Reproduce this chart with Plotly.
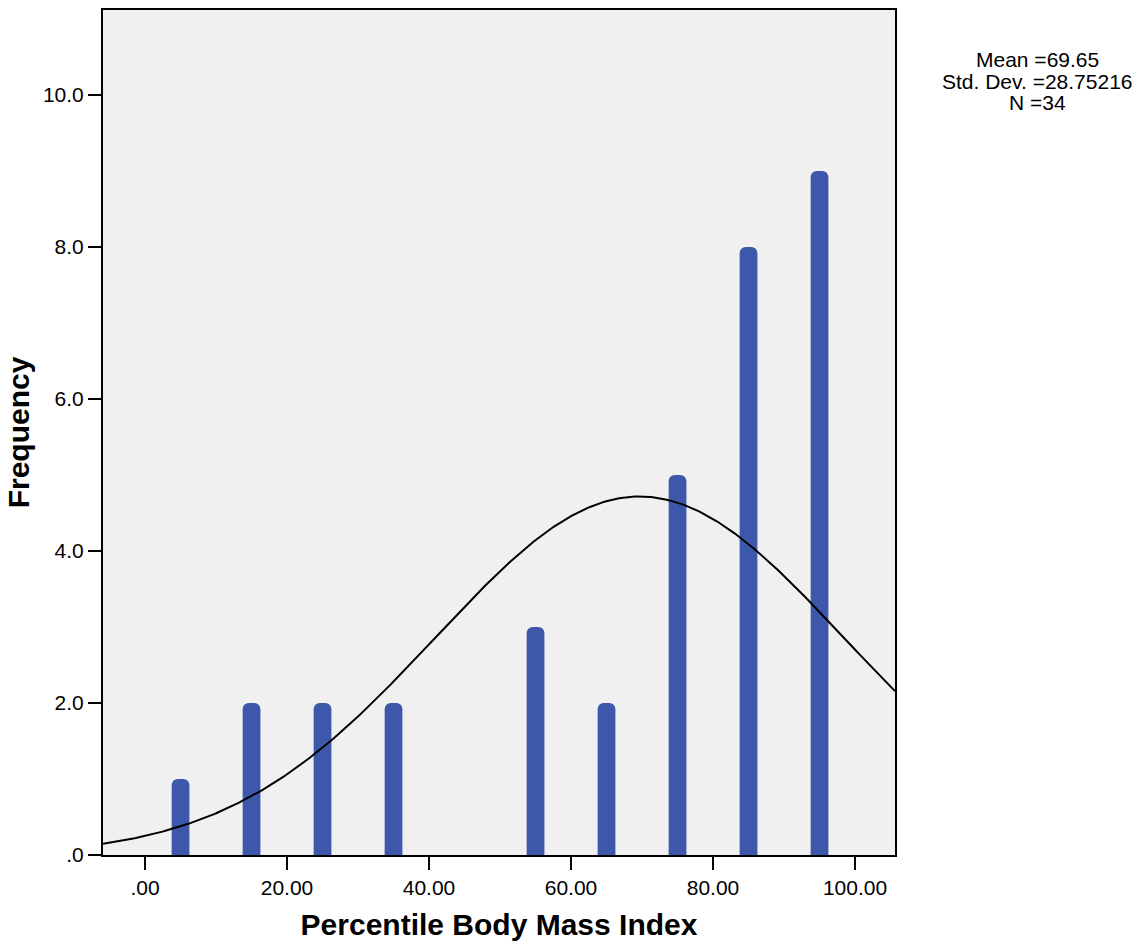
import numpy as np
import plotly.graph_objects as go

# Data
bin_centers = [5, 15, 25, 35, 45, 55, 65, 75, 85, 95]
frequencies = [1, 2, 2, 2, 0, 3, 2, 5, 8, 9]
mean_val = 69.65
std_val = 28.75216
n_val = 34
bin_width = 10

x_tick_vals = [0, 20, 40, 60, 80, 100]
x_tick_text = [".00", "20.00", "40.00", "60.00", "80.00", "100.00"]
y_tick_vals = [0, 2, 4, 6, 8, 10]
y_tick_text = [".0", "2.0", "4.0", "6.0", "8.0", "10.0"]

stat_lines = [f"Mean ={mean_val}", f"Std. Dev. ={std_val}", f"N ={n_val}"]

x_range = [-5.92, 105.63]
y_range = [0, 11.12]

# Normal curve from the shown statistics
xc = np.linspace(x_range[0], x_range[1], 400)
yc = n_val * bin_width * np.exp(-0.5 * ((xc - mean_val) / std_val) ** 2) / (std_val * np.sqrt(2 * np.pi))

fig = go.Figure()
fig.add_trace(go.Bar(
    x=bin_centers, y=frequencies, width=2.5,
    marker=dict(color="#3D58AB", line=dict(width=0)),
    showlegend=False,
))
fig.add_trace(go.Scatter(
    x=xc, y=yc, mode="lines",
    line=dict(color="black", width=2),
    showlegend=False,
))

font_family = "Liberation Sans, Arial, sans-serif"
annotations = []
for i, t in enumerate(stat_lines):
    annotations.append(dict(
        text=t, xref="paper", yref="paper",
        x=1.18, y=(946 - 91 - 58 - 21.5 * i) / 847.0,
        xanchor="center", yanchor="middle", showarrow=False,
        font=dict(size=21, family=font_family, color="black"),
    ))

fig.update_layout(
    width=1143, height=946,
    margin=dict(l=103, r=248, t=8, b=91),
    paper_bgcolor="white",
    plot_bgcolor="#F0F0F0",
    barcornerradius=6,
    font=dict(family=font_family, color="black", size=21),
    xaxis=dict(
        range=x_range, tickvals=x_tick_vals, ticktext=x_tick_text,
        ticks="outside", ticklen=13, tickwidth=2, tickcolor="black",
        showline=True, linecolor="black", linewidth=2, mirror=True,
        showgrid=False, zeroline=False,
        tickfont=dict(size=21, family=font_family),
        title=dict(text="<b>Percentile Body Mass Index</b>", font=dict(size=30, family=font_family), standoff=16),
    ),
    yaxis=dict(
        range=y_range, tickvals=y_tick_vals, ticktext=y_tick_text,
        ticks="outside", ticklen=13, tickwidth=2, tickcolor="black",
        showline=True, linecolor="black", linewidth=2, mirror=True,
        showgrid=False, zeroline=False,
        tickfont=dict(size=21, family=font_family),
        title=dict(text="<b>Frequency</b>", font=dict(size=30, family=font_family), standoff=4),
    ),
    annotations=annotations,
)

fig.write_html("out.html")
